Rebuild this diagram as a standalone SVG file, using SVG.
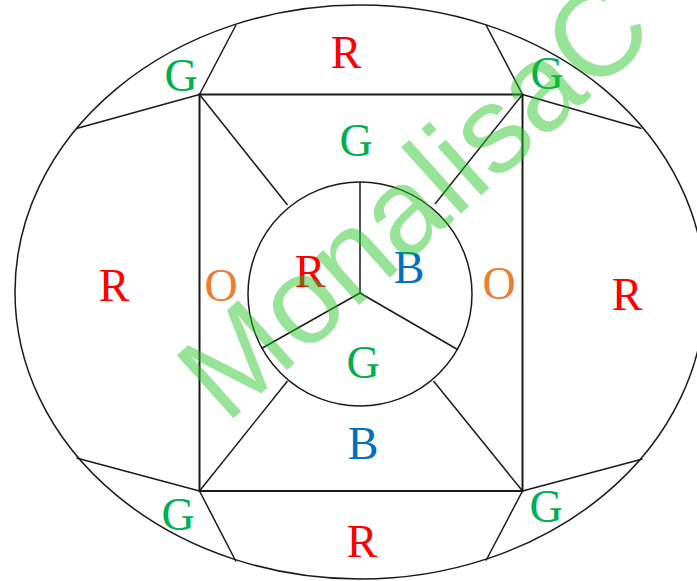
<svg xmlns="http://www.w3.org/2000/svg" width="697" height="581" viewBox="0 0 697 581">
<style>
.ln{stroke:#1a1a1a;stroke-width:1.5;fill:none}
.rc{stroke:#1a1a1a;stroke-width:2;fill:none}
.t{font-family:"Liberation Serif","Times New Roman",serif;font-size:46px;text-anchor:middle}
.r{fill:#ff0000}.g{fill:#00b050}.o{fill:#ed7d31}.b{fill:#0070c0}
.wm{font-family:"Liberation Sans",Arial,sans-serif;font-size:123px;fill:#22c322;fill-opacity:0.47}
</style>
<rect width="697" height="581" fill="#fff"/>
<g id="shapes">
<ellipse id="outer" class="ln" cx="360" cy="292" rx="345" ry="287"/>
<rect id="square" class="rc" x="199.5" y="94.5" width="323" height="396.5"/>
<circle id="inner" class="ln" cx="360" cy="294" r="112"/>
</g>
<g id="connectors" class="ln">
<line x1="199.5" y1="94.5" x2="236" y2="25"/>
<line x1="199.5" y1="94.5" x2="76.5" y2="128.5"/>
<line x1="522.5" y1="94.5" x2="486" y2="25"/>
<line x1="522.5" y1="94.5" x2="641.5" y2="128.5"/>
<line x1="199.5" y1="491" x2="76.5" y2="458"/>
<line x1="199.5" y1="491" x2="236" y2="561.5"/>
<line x1="522.5" y1="491" x2="642.5" y2="459"/>
<line x1="522.5" y1="491" x2="486" y2="560.5"/>
<line x1="199.5" y1="94.5" x2="287.5" y2="205"/>
<line x1="522.5" y1="94.5" x2="435" y2="204"/>
<line x1="199.5" y1="491" x2="287.5" y2="381"/>
<line x1="522.5" y1="491" x2="433.5" y2="381"/>
<line x1="360" y1="293" x2="360" y2="182"/>
<line x1="360" y1="293" x2="261.5" y2="348.5"/>
<line x1="360" y1="293" x2="457.5" y2="349.5"/>
</g>
<g id="labels">
<text class="t r" x="346" y="68">R</text>
<text class="t g" x="181" y="91">G</text>
<text class="t g" x="547" y="89">G</text>
<text class="t g" x="356" y="156">G</text>
<text class="t r" x="114" y="301">R</text>
<text class="t o" x="221" y="301">O</text>
<text class="t r" x="310" y="287">R</text>
<text class="t b" x="409" y="283">B</text>
<text class="t o" x="499" y="299">O</text>
<text class="t r" x="627" y="310">R</text>
<text class="t g" x="363" y="378">G</text>
<text class="t b" x="363" y="459">B</text>
<text class="t g" x="178" y="530">G</text>
<text class="t g" x="546" y="522">G</text>
<text class="t r" x="362" y="557">R</text>
</g>
<text class="wm" transform="translate(226,425) rotate(-42)">MonalisaC</text>
</svg>
